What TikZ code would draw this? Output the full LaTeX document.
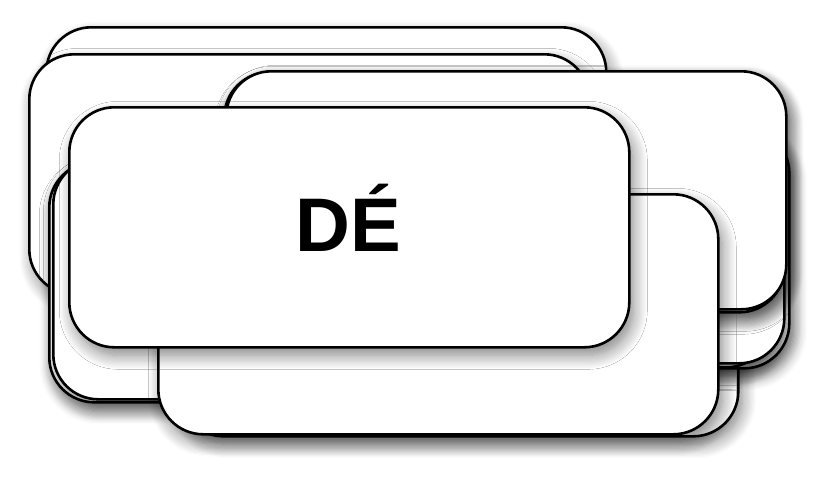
\documentclass[tikz,border=0pt]{standalone}
\usepackage{fontspec}
\setmainfont{Liberation Sans}
\usetikzlibrary{shadows.blur}
\begin{document}
\begin{tikzpicture}[x=1pt,y=-1pt,
  card/.style={draw=black, fill=white, line width=2.6pt, rounded corners=45pt,
    minimum width=560pt, minimum height=240pt, anchor=north west, inner sep=0pt,
    blur shadow={shadow xshift=4pt, shadow yshift=-8pt, shadow blur radius=14pt, shadow blur steps=12, shadow opacity=50}},
  label/.style={font=\fontsize{76}{76}\selectfont\bfseries, inner sep=0pt}]
\useasboundingbox (0,0) rectangle (833,485);
\node[card] (a) at (45,26) {};
\node[card] (b) at (28,53) {};
\node[card] (f1) at (48,161) {};
\node[card] (f2) at (52,158) {};
\node[card] (i) at (177,195) {};
\node[card] (k) at (228,127) {};
\node[card] (j) at (210,126) {};
\node[card] (g) at (223,122) {};
\node[card] (l) at (223,71) {};
\node[card, minimum height=238pt] (c) at (225,70) {};
\node[card] (e) at (157,193) {};
\node[card] (d) at (68,106) {};
\node[label] (t) at (348,218) {DÉ};
\end{tikzpicture}
\end{document}
